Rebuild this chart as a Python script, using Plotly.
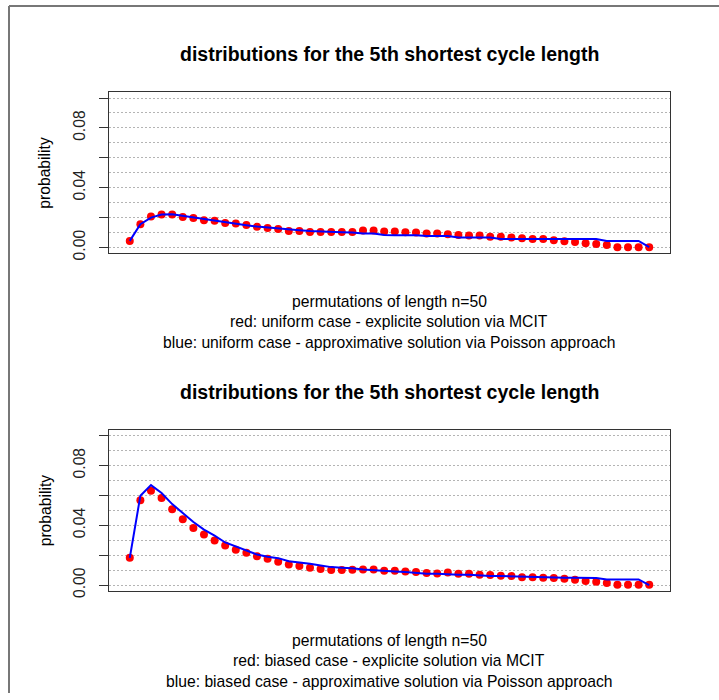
import plotly.graph_objects as go

W, H = 719, 700

x_len = list(range(1, 51))

uniform_red = [0.0044, 0.0156, 0.0207, 0.0220, 0.0220, 0.0204, 0.0198, 0.0182, 0.0178, 0.0164,
               0.0160, 0.0151, 0.0138, 0.0131, 0.0124, 0.0111, 0.0111, 0.0104, 0.0104, 0.0104,
               0.0104, 0.0104, 0.0113, 0.0113, 0.0107, 0.0107, 0.0102, 0.0100, 0.0093, 0.0093,
               0.0089, 0.0084, 0.0080, 0.0080, 0.0071, 0.0071, 0.0067, 0.0062, 0.0056, 0.0056,
               0.0049, 0.0042, 0.0036, 0.0029, 0.0024, 0.0016, 0.0002, 0.0002, 0.0002, 0.0002]

uniform_blue = [0.0044, 0.0156, 0.0200, 0.0220, 0.0222, 0.0211, 0.0200, 0.0189, 0.0178, 0.0167,
                0.0158, 0.0149, 0.0140, 0.0133, 0.0127, 0.0120, 0.0116, 0.0111, 0.0107, 0.0104,
                0.0102, 0.0100, 0.0093, 0.0093, 0.0084, 0.0082, 0.0082, 0.0082, 0.0076, 0.0076,
                0.0076, 0.0067, 0.0067, 0.0067, 0.0067, 0.0056, 0.0056, 0.0056, 0.0056, 0.0056,
                0.0056, 0.0056, 0.0056, 0.0056, 0.0056, 0.0044, 0.0044, 0.0044, 0.0044, 0.0002]

biased_red = [0.0182, 0.0567, 0.0631, 0.0582, 0.0507, 0.0440, 0.0382, 0.0338, 0.0298, 0.0264,
              0.0236, 0.0216, 0.0193, 0.0176, 0.0156, 0.0138, 0.0127, 0.0116, 0.0107, 0.0100,
              0.0100, 0.0102, 0.0104, 0.0104, 0.0096, 0.0096, 0.0091, 0.0087, 0.0080, 0.0078,
              0.0084, 0.0076, 0.0076, 0.0069, 0.0067, 0.0062, 0.0060, 0.0053, 0.0053, 0.0049,
              0.0047, 0.0042, 0.0036, 0.0027, 0.0022, 0.0013, 0.0002, 0.0002, 0.0002, 0.0002]

biased_blue = [0.0182, 0.0598, 0.0669, 0.0616, 0.0542, 0.0482, 0.0422, 0.0371, 0.0331, 0.0285,
               0.0257, 0.0227, 0.0204, 0.0189, 0.0180, 0.0160, 0.0153, 0.0142, 0.0131, 0.0120,
               0.0116, 0.0113, 0.0104, 0.0098, 0.0093, 0.0091, 0.0087, 0.0080, 0.0076, 0.0076,
               0.0071, 0.0069, 0.0069, 0.0064, 0.0060, 0.0060, 0.0058, 0.0053, 0.0053, 0.0053,
               0.0051, 0.0049, 0.0049, 0.0049, 0.0047, 0.0038, 0.0038, 0.0038, 0.0038, 0.0000]

y_major = [0.00, 0.02, 0.04, 0.06, 0.08, 0.10]
y_major_text = ["0.00", "", "0.04", "", "0.08", ""]
y_minor = [0.01, 0.03, 0.05, 0.07, 0.09]

title_text = "distributions for the 5th shortest cycle length"
xlab_top = ["permutations of length n=50",
            "red: uniform case - explicite solution via MCIT",
            "blue: uniform case - approximative solution via Poisson approach"]
xlab_bot = ["permutations of length n=50",
            "red: biased case - explicite solution via MCIT",
            "blue: biased case - approximative solution via Poisson approach"]
ylab_text = "probability"

FONT = "Liberation Sans, Arial, sans-serif"
TXT = 15.7


def px(x):
    return x / W


def py(y):
    return 1 - y / H


fig = go.Figure()

panels = [
    dict(red=uniform_red, blue=uniform_blue, top=93, bot=256, xa="x", ya="y", title_y=55, xl=xlab_top, xl_y=[305, 325, 346]),
    dict(red=biased_red, blue=biased_blue, top=434, bot=597, xa="x2", ya="y2", title_y=396, xl=xlab_bot, xl_y=[647, 667, 688]),
]

L, R = 109, 670
annotations = []
for i, p in enumerate(panels):
    fig.add_trace(go.Scatter(x=x_len, y=p["red"], mode="markers",
                             marker=dict(color="#FF0000", size=8, line=dict(width=0)),
                             xaxis=p["xa"], yaxis=p["ya"], showlegend=False))
    fig.add_trace(go.Scatter(x=x_len, y=p["blue"], mode="lines",
                             line=dict(color="#0000FF", width=2),
                             xaxis=p["xa"], yaxis=p["ya"], showlegend=False))
    sfx = "" if i == 0 else "2"
    xaxis = dict(domain=[px(L), px(R)], range=[-0.96, 51.96], showticklabels=False, ticks="",
                 showgrid=False, zeroline=False, showline=True, mirror=True,
                 linecolor="#333333", linewidth=1, anchor="y" + sfx)
    yaxis = dict(domain=[py(p["bot"]), py(p["top"])], range=[-0.004, 0.104],
                 tickvals=y_major, ticktext=y_major_text, ticks="outside", ticklen=9,
                 tickcolor="#333333", tickangle=-90, ticklabelstandoff=8,
                 tickfont=dict(family=FONT, size=TXT, color="#222222"),
                 showgrid=True, gridcolor="#B4B4B4", griddash="2px,2px", gridwidth=1,
                 minor=dict(tickvals=y_minor, showgrid=True, gridcolor="#B4B4B4", griddash="2px,2px", ticks=""),
                 zeroline=False, showline=True, mirror=True, linecolor="#333333", linewidth=1,
                 anchor="x" + sfx)
    fig.update_layout(**{"xaxis" + sfx: xaxis, "yaxis" + sfx: yaxis})

    annotations.append(dict(text="<b>" + title_text + "</b>", x=px((L + R) / 2), y=py(p["title_y"]),
                            xref="paper", yref="paper", showarrow=False, xanchor="center", yanchor="middle",
                            font=dict(family=FONT, size=19.5, color="#000000")))
    for t, yy in zip(p["xl"], p["xl_y"]):
        annotations.append(dict(text=t, x=px((L + R) / 2), y=py(yy), xref="paper", yref="paper",
                                showarrow=False, xanchor="center", yanchor="middle",
                                font=dict(family=FONT, size=TXT, color="#000000")))
    annotations.append(dict(text=ylab_text, x=px(45), y=py((p["top"] + p["bot"]) / 2), xref="paper", yref="paper",
                            showarrow=False, xanchor="center", yanchor="middle", textangle=-90,
                            font=dict(family=FONT, size=TXT, color="#000000")))

shapes = [
    dict(type="line", xref="paper", yref="paper", x0=px(9), x1=px(9), y0=py(6), y1=0,
         line=dict(color="#777777", width=2)),
    dict(type="line", xref="paper", yref="paper", x0=px(9), x1=1, y0=py(6), y1=py(6),
         line=dict(color="#777777", width=2)),
]

fig.update_layout(width=W, height=H, margin=dict(l=0, r=0, t=0, b=0),
                  paper_bgcolor="white", plot_bgcolor="white",
                  annotations=annotations, shapes=shapes, showlegend=False)

fig.write_html("out.html", config={"displayModeBar": False},
               post_script="document.body.style.margin='0';document.body.style.padding='0';")
